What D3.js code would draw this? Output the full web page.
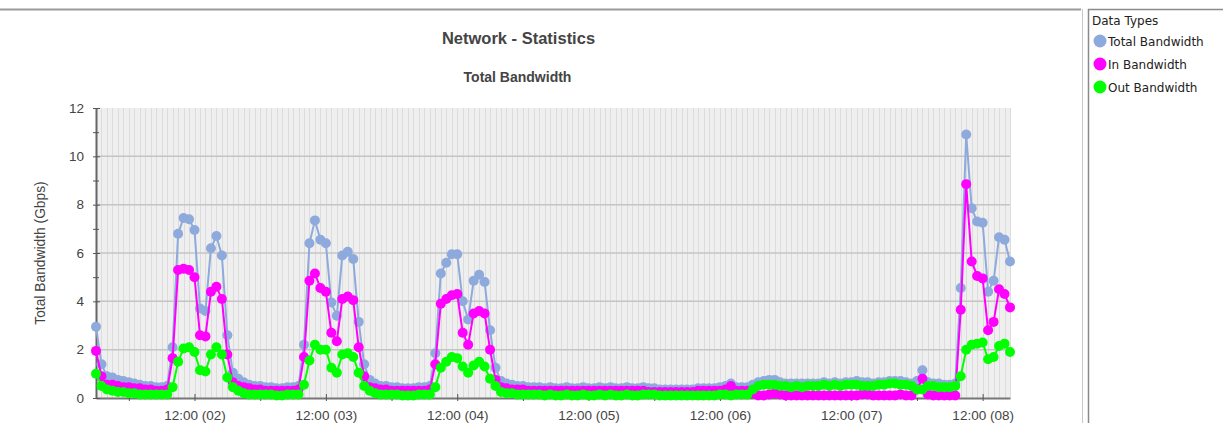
<!DOCTYPE html>
<html>
<head>
<meta charset="utf-8">
<script src="https://cdn.jsdelivr.net/npm/d3@7"></script>
<style>
  html, body { margin: 0; padding: 0; background: #fff; }
  svg { display: block; }
</style>
</head>
<body>
<svg id="chart" width="1223" height="423"></svg>
<script>
let seriesNames = ['Total Bandwidth', 'In Bandwidth', 'Out Bandwidth'];
let seriesColors = ['#8eaadc', '#ff00ff', '#00ff00'];

// hourly samples, first one at 18:00 on day 01
let startTime = new Date(2011, 0, 1, 18, 0);

let totalBandwidth = [
  2.95, 1.4, 0.9, 0.85, 0.75, 0.7, 0.65, 0.6, 0.55, 0.5, 0.5, 0.45,
  0.45, 0.5, 2.1, 6.8, 7.45, 7.4, 6.95, 3.7, 3.6, 6.2, 6.7, 5.9,
  2.6, 1.05, 0.8, 0.65, 0.55, 0.5, 0.5, 0.45, 0.45, 0.4, 0.4, 0.45,
  0.45, 0.5, 2.2, 6.4, 7.35, 6.55, 6.4, 3.95, 3.4, 5.9, 6.05, 5.75,
  3.15, 1.4, 0.75, 0.6, 0.5, 0.5, 0.45, 0.45, 0.4, 0.4, 0.4, 0.45,
  0.45, 0.5, 1.85, 5.15, 5.6, 5.95, 5.95, 4.0, 3.25, 4.85, 5.1, 4.8,
  2.8, 1.25, 0.7, 0.6, 0.55, 0.5, 0.5, 0.45, 0.45, 0.45, 0.4, 0.45,
  0.4, 0.4, 0.45, 0.4, 0.4, 0.45, 0.4, 0.4, 0.45, 0.4, 0.45, 0.4,
  0.4, 0.45, 0.4, 0.4, 0.45, 0.4, 0.4, 0.35, 0.35, 0.35, 0.35, 0.35,
  0.35, 0.35, 0.4, 0.4, 0.4, 0.4, 0.45, 0.5, 0.6, 0.45, 0.45, 0.45,
  0.55, 0.65, 0.7, 0.75, 0.75, 0.65, 0.6, 0.6, 0.6, 0.6, 0.6, 0.6,
  0.6, 0.65, 0.6, 0.65, 0.6, 0.65, 0.65, 0.7, 0.65, 0.65, 0.6, 0.65,
  0.65, 0.7, 0.7, 0.7, 0.65, 0.6, 0.7, 1.15, 0.65, 0.6, 0.6, 0.55,
  0.55, 0.6, 4.55, 10.9, 7.85, 7.3, 7.25, 4.4, 4.85, 6.65, 6.55, 5.65
];

let inBandwidth = [
  1.95, 0.9, 0.55, 0.55, 0.5, 0.45, 0.45, 0.4, 0.4, 0.35, 0.35, 0.3,
  0.3, 0.35, 1.65, 5.3, 5.35, 5.3, 5.0, 2.6, 2.55, 4.4, 4.6, 4.1,
  1.8, 0.65, 0.5, 0.45, 0.4, 0.35, 0.35, 0.3, 0.3, 0.3, 0.3, 0.3,
  0.3, 0.35, 1.7, 4.85, 5.15, 4.55, 4.4, 2.7, 2.35, 4.1, 4.2, 4.05,
  2.1, 0.9, 0.45, 0.4, 0.35, 0.35, 0.3, 0.3, 0.3, 0.3, 0.3, 0.3,
  0.3, 0.35, 1.4, 3.9, 4.1, 4.25, 4.3, 2.7, 2.2, 3.5, 3.6, 3.5,
  2.0, 0.75, 0.45, 0.4, 0.35, 0.35, 0.35, 0.3, 0.3, 0.3, 0.3, 0.3,
  0.3, 0.3, 0.3, 0.3, 0.3, 0.3, 0.3, 0.3, 0.3, 0.3, 0.3, 0.3,
  0.3, 0.3, 0.3, 0.3, 0.3, 0.25, 0.25, 0.25, 0.25, 0.25, 0.25, 0.25,
  0.25, 0.25, 0.3, 0.3, 0.3, 0.3, 0.3, 0.35, 0.5, 0.3, 0.3, 0.3,
  0.2, 0.1, 0.1, 0.15, 0.2, 0.15, 0.1, 0.1, 0.1, 0.1, 0.1, 0.1,
  0.1, 0.1, 0.1, 0.1, 0.1, 0.1, 0.1, 0.1, 0.15, 0.15, 0.1, 0.1,
  0.1, 0.1, 0.1, 0.15, 0.1, 0.1, 0.35, 0.8, 0.15, 0.1, 0.1, 0.1,
  0.1, 0.1, 3.65, 8.85, 5.65, 5.05, 4.95, 2.8, 3.15, 4.5, 4.3, 3.75
];

let outBandwidth = [
  1.0, 0.5, 0.35, 0.3, 0.25, 0.25, 0.2, 0.2, 0.15, 0.15, 0.15, 0.15,
  0.15, 0.15, 0.45, 1.5, 2.05, 2.1, 1.9, 1.15, 1.1, 1.8, 2.1, 1.8,
  0.85, 0.45, 0.3, 0.2, 0.15, 0.15, 0.15, 0.15, 0.15, 0.1, 0.1, 0.15,
  0.15, 0.15, 0.55, 1.55, 2.2, 2.0, 2.0, 1.25, 1.05, 1.8, 1.85, 1.7,
  1.05, 0.5, 0.3, 0.2, 0.15, 0.15, 0.15, 0.15, 0.1, 0.1, 0.1, 0.15,
  0.15, 0.15, 0.45, 1.25, 1.5, 1.7, 1.65, 1.3, 1.05, 1.35, 1.5, 1.3,
  0.8, 0.5, 0.25, 0.2, 0.2, 0.15, 0.15, 0.15, 0.15, 0.15, 0.1, 0.15,
  0.1, 0.1, 0.15, 0.1, 0.1, 0.15, 0.1, 0.1, 0.15, 0.1, 0.15, 0.1,
  0.1, 0.15, 0.1, 0.1, 0.15, 0.15, 0.15, 0.1, 0.1, 0.1, 0.1, 0.1,
  0.1, 0.1, 0.1, 0.1, 0.1, 0.1, 0.15, 0.15, 0.1, 0.15, 0.15, 0.15,
  0.35, 0.5, 0.55, 0.55, 0.55, 0.5, 0.5, 0.45, 0.5, 0.45, 0.5, 0.5,
  0.5, 0.55, 0.5, 0.55, 0.5, 0.55, 0.55, 0.55, 0.5, 0.5, 0.5, 0.55,
  0.55, 0.6, 0.6, 0.55, 0.55, 0.5, 0.35, 0.35, 0.5, 0.5, 0.45, 0.45,
  0.45, 0.5, 0.9, 2.0, 2.2, 2.25, 2.3, 1.6, 1.7, 2.15, 2.25, 1.9
];

let yMajorTicks = [0, 2, 4, 6, 8, 10, 12];
let yMinorTicks = [1, 3, 5, 7, 9, 11];

let svg = d3.select('#chart');

let plotLeft = 96, plotRight = 1010, plotTop = 108, plotBottom = 398;

let times = totalBandwidth.map((v, i) => d3.timeHour.offset(startTime, i));

let x = d3.scaleTime()
  .domain([times[0], times[times.length - 1]])
  .range([plotLeft, plotRight]);

let y = d3.scaleLinear()
  .domain([0, 12])
  .range([plotBottom, plotTop]);

// outer frame
svg.append('line')
  .attr('x1', 0).attr('x2', 1081).attr('y1', 9.5).attr('y2', 9.5)
  .attr('stroke', '#9a9a9a').attr('stroke-width', 2);
svg.append('line')
  .attr('x1', 1082.5).attr('x2', 1082.5).attr('y1', 9).attr('y2', 423)
  .attr('stroke', '#c8c8c8').attr('stroke-width', 1);
svg.append('rect')
  .attr('x', 1088.5).attr('y', 9.5).attr('width', 140).attr('height', 420)
  .attr('fill', '#fff').attr('stroke', '#8a8a8a').attr('stroke-width', 1.5);

// titles
svg.append('text')
  .attr('x', 518.5).attr('y', 44)
  .attr('text-anchor', 'middle')
  .style('font', 'bold 16.5px "Liberation Sans", Arial, sans-serif')
  .style('fill', '#444')
  .text('Network - Statistics');

svg.append('text')
  .attr('x', 517.5).attr('y', 81.5)
  .attr('text-anchor', 'middle')
  .style('font', 'bold 14px "Liberation Sans", Arial, sans-serif')
  .style('fill', '#444')
  .text('Total Bandwidth');

svg.append('text')
  .attr('transform', 'translate(45,253) rotate(-90)')
  .attr('text-anchor', 'middle')
  .style('font', '13.8px "Liberation Sans", Arial, sans-serif')
  .style('fill', '#444')
  .text('Total Bandwidth (Gbps)');

// plot background + grid
svg.append('rect')
  .attr('x', plotLeft).attr('y', plotTop)
  .attr('width', plotRight - plotLeft).attr('height', plotBottom - plotTop)
  .attr('fill', '#efefef');

svg.append('g')
  .selectAll('line')
  .data(times)
  .enter()
  .append('line')
  .attr('x1', d => Math.round(x(d)) + 0.5)
  .attr('x2', d => Math.round(x(d)) + 0.5)
  .attr('y1', plotTop).attr('y2', plotBottom)
  .attr('stroke', '#dcdcdc');

svg.append('g')
  .selectAll('line')
  .data(yMajorTicks.filter(d => d > 0 && d < 12))
  .enter()
  .append('line')
  .attr('x1', plotLeft).attr('x2', plotRight)
  .attr('y1', d => y(d)).attr('y2', d => y(d))
  .attr('stroke', '#c4c4c4').attr('stroke-width', 1.5);

// axes
let hourly = d3.timeHour.range(times[0], times[times.length - 1]);
let noonTicks = hourly.filter(d => d.getHours() === 12);
let midnightTicks = hourly.filter(d => d.getHours() === 0);

let xAxis = d3.axisBottom(x)
  .tickValues(noonTicks)
  .tickFormat(d3.timeFormat('%H:%M (%d)'))
  .tickSizeOuter(0)
  .tickPadding(6);

let xg = svg.append('g')
  .attr('transform', 'translate(0,' + plotBottom + ')')
  .call(xAxis);
xg.select('.domain').attr('stroke', '#777').attr('stroke-width', 2);
xg.selectAll('.tick line').attr('y1', -4).attr('y2', 3).attr('stroke', '#555');
xg.selectAll('.tick text')
  .style('font', '13.5px "Liberation Sans", Arial, sans-serif')
  .style('fill', '#444');

let xMinor = svg.append('g')
  .attr('transform', 'translate(0,' + plotBottom + ')')
  .call(d3.axisBottom(x).tickValues(midnightTicks).tickFormat('').tickSizeOuter(0).tickSize(3));
xMinor.select('.domain').remove();
xMinor.selectAll('.tick line').attr('stroke', '#555');

let yAxis = d3.axisLeft(y)
  .tickValues(yMajorTicks)
  .tickSizeOuter(0)
  .tickPadding(6);

let yg = svg.append('g')
  .attr('transform', 'translate(' + plotLeft + ',0)')
  .call(yAxis);
yg.select('.domain').attr('stroke', '#666').attr('stroke-width', 2);
yg.selectAll('.tick line').attr('x1', 4).attr('x2', -3).attr('stroke', '#555');
yg.selectAll('.tick text')
  .style('font', '13.5px "Liberation Sans", Arial, sans-serif')
  .style('fill', '#444');

let yMinor = svg.append('g')
  .attr('transform', 'translate(' + plotLeft + ',0)')
  .call(d3.axisLeft(y).tickValues(yMinorTicks).tickFormat('').tickSizeOuter(0).tickSize(3));
yMinor.select('.domain').remove();
yMinor.selectAll('.tick line').attr('x1', 3).attr('stroke', '#555');

// series
let allSeries = [totalBandwidth, inBandwidth, outBandwidth];

let line = d3.line()
  .x((d, i) => x(times[i]))
  .y(d => y(d));

allSeries.forEach((values, k) => {
  let g = svg.append('g').attr('class', 'series');
  g.append('path')
    .attr('d', line(values))
    .attr('fill', 'none')
    .attr('stroke', seriesColors[k])
    .attr('stroke-width', 2);
  g.selectAll('circle')
    .data(values)
    .enter()
    .append('circle')
    .attr('cx', (d, i) => x(times[i]))
    .attr('cy', d => y(d))
    .attr('r', 5)
    .attr('fill', seriesColors[k]);
});

// legend
let legend = svg.append('g');
legend.append('text')
  .attr('x', 1092).attr('y', 25)
  .style('font', '12px "DejaVu Sans", sans-serif')
  .style('fill', '#222')
  .text('Data Types');

let items = legend.selectAll('.item')
  .data(seriesNames)
  .enter()
  .append('g')
  .attr('class', 'item')
  .attr('transform', (d, i) => 'translate(0,' + (41 + i * 23) + ')');

items.append('circle')
  .attr('cx', 1100).attr('cy', 0).attr('r', 6.5)
  .attr('fill', (d, i) => seriesColors[i]);

items.append('text')
  .attr('x', 1108).attr('y', 5)
  .style('font', '12px "DejaVu Sans", sans-serif')
  .style('fill', '#222')
  .text(d => d);
</script>
</body>
</html>
